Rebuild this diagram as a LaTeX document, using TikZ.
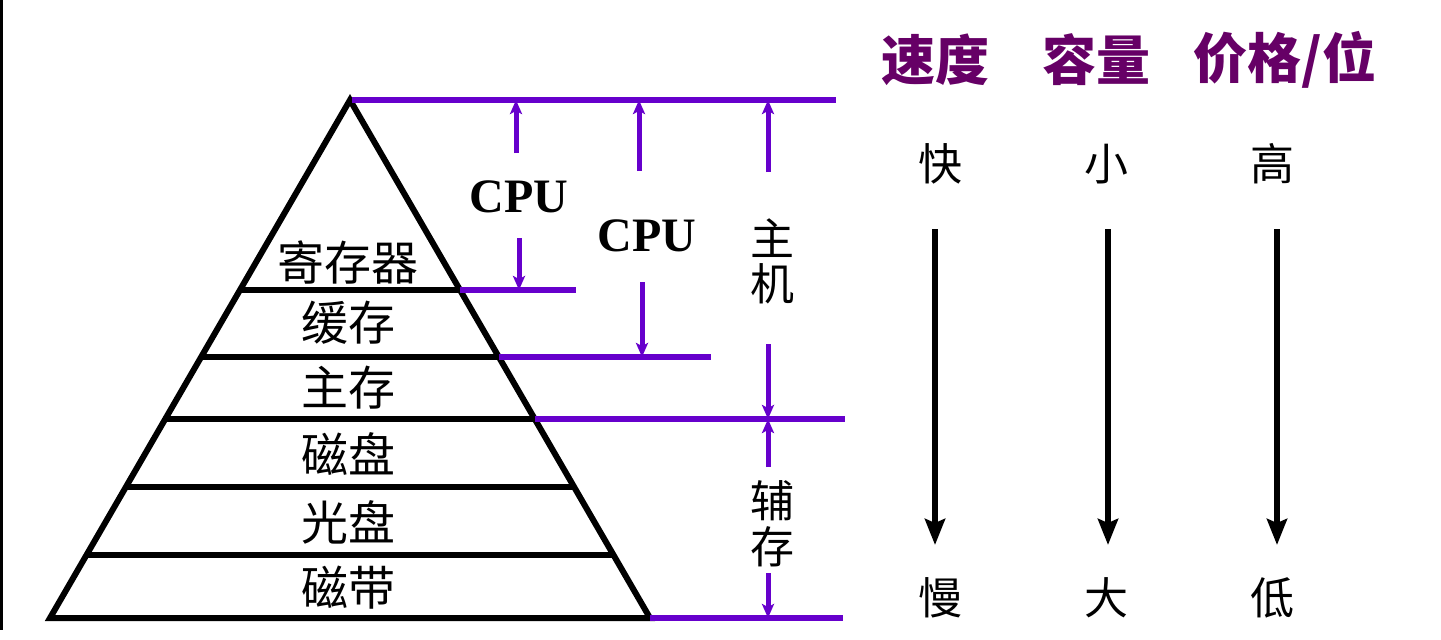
\documentclass[tikz,border=0pt]{standalone}
\usepackage{fontspec}
\setmainfont{Liberation Serif}
\newfontfamily\cjk{Noto Sans CJK SC}
\usetikzlibrary{arrows.meta}
\definecolor{pur}{RGB}{102,0,204}
\definecolor{hdr}{RGB}{102,0,102}
\tikzset{
  pyr/.style={line width=3pt, black},
  pline/.style={line width=2.8pt, pur},
  parrow/.style={line width=2.5pt, pur, -{Stealth[length=7pt,width=6pt,inset=1.5pt]}},
  barrow/.style={line width=3pt, black, -{Stealth[length=13pt,width=10pt,inset=2pt]}},
  lvl/.style={font=\cjk\fontsize{23.5}{25}\selectfont, inner sep=0pt},
  side/.style={font=\cjk\fontsize{22}{24}\selectfont, inner sep=0pt},
  hd/.style={font=\cjk\bfseries\fontsize{27}{30}\selectfont, text=hdr, inner sep=0pt},
  colw/.style={font=\cjk\fontsize{22}{24}\selectfont, inner sep=0pt},
  cpu/.style={font=\bfseries\fontsize{24}{26}\selectfont, inner sep=0pt},
}
\begin{document}
\begin{tikzpicture}[x=0.5pt,y=-0.5pt]
\useasboundingbox (0,0) rectangle (1441,639);
\fill[white] (0,0) rectangle (1441,639);
% left edge line
\draw[line width=1.5pt] (1,0) -- (1,630);
% pyramid
\coordinate (apex) at (350,100);
\coordinate (bl) at (50,618);
\coordinate (br) at (650,618);
\draw[pyr, line join=miter] (bl) -- (apex) -- (br) -- cycle;
\foreach \yy/\nm in {290/a,357/b,419/c,487/d,555/e}{
  \pgfmathsetmacro{\dx}{(\yy-100)*0.5792}
  \coordinate (L\nm) at ({350-\dx},\yy);
  \coordinate (R\nm) at ({350+\dx},\yy);
  \draw[pyr] (L\nm) -- (R\nm);
}
% level labels
\node[lvl] (reg) at (348,262) {寄存器};
\node[lvl] (cache) at (348,323) {缓存};
\node[lvl] (mainm) at (348,388) {主存};
\node[lvl] (disk) at (348,454) {磁盘};
\node[lvl] (odisk) at (348,522) {光盘};
\node[lvl] (tape) at (348,588) {磁带};
% purple boundary lines
\coordinate (t0) at (352,100);
\coordinate (t1) at (836,100);
\draw[pline] (t0) -- (t1);
\coordinate (a1) at (576,290);
\draw[pline] (Ra) -- (a1);
\coordinate (b1) at (711,357);
\draw[pline] (Rb) -- (b1);
\coordinate (c1) at (845,419);
\draw[pline] (Rc) -- (c1);
\coordinate (f1) at (843,618);
\draw[pline] (br) -- (f1);
% CPU labels and arrows
\node[cpu] (cpu1) at (519,197) {CPU};
\node[cpu] (cpu2) at (647,236) {CPU};
\coordinate (u1s) at (516,153); \coordinate (u1e) at (516,100);
\draw[parrow] (u1s) -- (u1e);
\coordinate (d1s) at (519,238); \coordinate (d1e) at (519,290);
\draw[parrow] (d1s) -- (d1e);
\coordinate (u2s) at (639,171); \coordinate (u2e) at (639,100);
\draw[parrow] (u2s) -- (u2e);
\coordinate (d2s) at (642,282); \coordinate (d2e) at (642,357);
\draw[parrow] (d2s) -- (d2e);
% host
\node[side] (zhu) at (772,238) {主};
\node[side] (ji) at (772,284) {机};
\coordinate (u3s) at (768,172); \coordinate (u3e) at (768,100);
\draw[parrow] (u3s) -- (u3e);
\coordinate (d3s) at (768,344); \coordinate (d3e) at (768,419);
\draw[parrow] (d3s) -- (d3e);
% auxiliary
\node[side] (fu) at (772,501) {辅};
\node[side] (cun) at (772,547) {存};
\coordinate (u4s) at (768,467); \coordinate (u4e) at (768,419);
\draw[parrow] (u4s) -- (u4e);
\coordinate (d4s) at (768,573); \coordinate (d4e) at (768,618);
\draw[parrow] (d4s) -- (d4e);
% headers
\node[hd] (speed) at (935,60) {速度};
\node[hd] (cap) at (1096,60) {容量};
\node[hd] (price) at (1285,60) {价格/位};
% column words
\node[colw] (fast) at (940,164) {快};
\node[colw] (small) at (1106,164) {小};
\node[colw] (high) at (1272,164) {高};
\node[colw] (slow) at (940,598) {慢};
\node[colw] (big) at (1106,598) {大};
\node[colw] (low) at (1272,598) {低};
\coordinate (s1) at (935,229); \coordinate (s2) at (935,545);
\coordinate (c1s) at (1108,229); \coordinate (c2s) at (1108,545);
\coordinate (p1) at (1277,229); \coordinate (p2) at (1277,545);
\draw[barrow] (s1) -- (s2);
\draw[barrow] (c1s) -- (c2s);
\draw[barrow] (p1) -- (p2);
\end{tikzpicture}
\end{document}
